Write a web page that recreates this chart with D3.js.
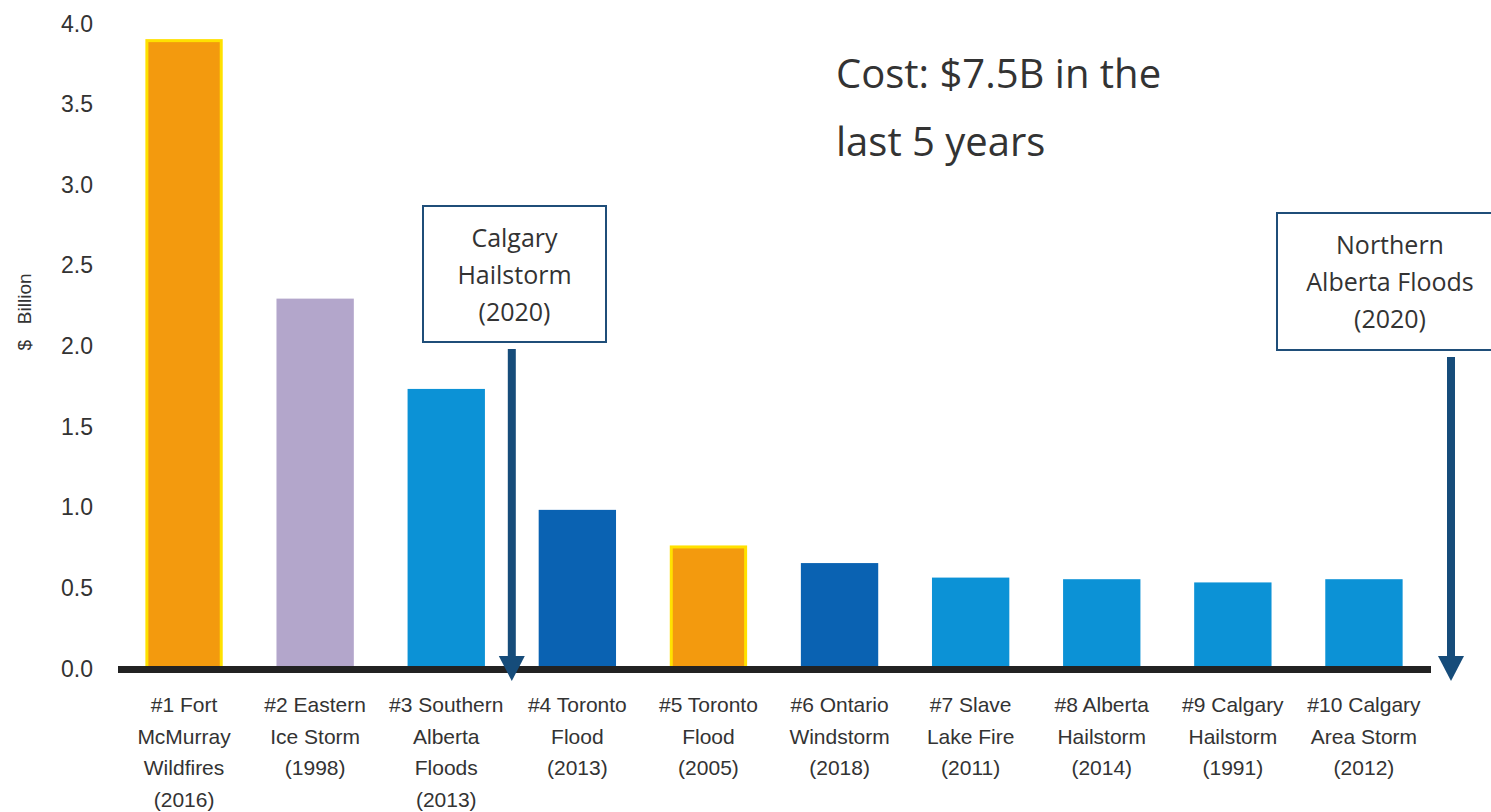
<!DOCTYPE html>
<html>
<head>
<meta charset="utf-8">
<script src="https://cdn.jsdelivr.net/npm/d3@7"></script>
<style>
  body { margin: 0; background: #fff; }
  #graphic text { fill: #333; }
</style>
</head>
<body>
<div id="graphic"></div>
<script>
// Data
var categories = [
  ["#1 Fort", "McMurray", "Wildfires", "(2016)"],
  ["#2 Eastern", "Ice Storm", "(1998)"],
  ["#3 Southern", "Alberta", "Floods", "(2013)"],
  ["#4 Toronto", "Flood", "(2013)"],
  ["#5 Toronto", "Flood", "(2005)"],
  ["#6 Ontario", "Windstorm", "(2018)"],
  ["#7 Slave", "Lake Fire", "(2011)"],
  ["#8 Alberta", "Hailstorm", "(2014)"],
  ["#9 Calgary", "Hailstorm", "(1991)"],
  ["#10 Calgary", "Area Storm", "(2012)"]
];
var values = [3.9, 2.3, 1.74, 0.99, 0.76, 0.66, 0.57, 0.56, 0.54, 0.56];
var barColours = ["#F39A0E", "#B3A6CB", "#0C92D6", "#0A62B2", "#F39A0E",
                  "#0A62B2", "#0C92D6", "#0C92D6", "#0C92D6", "#0C92D6"];
var highlighted = [true, false, false, false, true, false, false, false, false, false];
var yTicks = [0, 0.5, 1, 1.5, 2, 2.5, 3, 3.5, 4];
var callouts = [
  ["Calgary", "Hailstorm", "(2020)"],
  ["Northern", "Alberta Floods", "(2020)"]
];
var note = ["Cost: $7.5B in the", "last 5 years"];

var width = 1491, height = 812;

var svg = d3.select("#graphic")
  .append("svg")
  .attr("width", width)
  .attr("height", height);

// Scales
var x = d3.scaleBand()
  .domain(d3.range(categories.length))
  .range([118.5, 1429.5])
  .paddingInner(0.41)
  .paddingOuter(0.205);

var y = d3.scaleLinear().domain([0, 4]).range([668, 23]);

// Y axis (labels only)
var yAxis = d3.axisLeft(y)
  .tickValues(yTicks)
  .tickFormat(d3.format(".1f"))
  .tickSize(0)
  .tickPadding(0);

var yAxisG = svg.append("g")
  .attr("transform", "translate(93,0)")
  .call(yAxis);
yAxisG.select(".domain").remove();
yAxisG.selectAll("text")
  .style("font-family", "'Liberation Sans', Arial, sans-serif")
  .style("font-size", "23px")
  .attr("dy", "0.35em");

svg.append("text")
  .attr("transform", "translate(31,312) rotate(-90)")
  .attr("text-anchor", "middle")
  .style("font-family", "'Liberation Sans', Arial, sans-serif")
  .style("font-size", "19px")
  .style("white-space", "pre")
  .text("$   Billion");

// Bars
svg.selectAll(".bar")
  .data(values)
  .enter()
  .append("rect")
  .attr("class", "bar")
  .attr("x", (d, i) => x(i) + (highlighted[i] ? 1.5 : 0))
  .attr("y", (d) => y(d) + 1.5)
  .attr("width", (d, i) => x.bandwidth() - (highlighted[i] ? 3 : 0))
  .attr("height", (d) => y(0) - y(d) - 1.5)
  .attr("fill", (d, i) => barColours[i])
  .attr("stroke", (d, i) => highlighted[i] ? "#FFE100" : "none")
  .attr("stroke-width", 3);

// Baseline
svg.append("line")
  .attr("x1", 118)
  .attr("x2", 1431)
  .attr("y1", y(0) + 1.5)
  .attr("y2", y(0) + 1.5)
  .attr("stroke", "#222")
  .attr("stroke-width", 7);

// Category labels
var labels = svg.selectAll(".cat")
  .data(categories)
  .enter()
  .append("text")
  .attr("class", "cat")
  .attr("text-anchor", "middle")
  .attr("transform", (d, i) => "translate(" + (x(i) + x.bandwidth() / 2) + ",0)")
  .style("font-family", "'Liberation Sans', Arial, sans-serif")
  .style("font-size", "21px");

labels.selectAll("tspan")
  .data((d) => d)
  .enter()
  .append("tspan")
  .attr("x", 0)
  .attr("y", (d, j) => 712 + j * 31.5)
  .text((d) => d);

// Callouts: box with text and arrow down to axis
var arrowColour = "#164C7A";
var calloutBoxes = [
  { x0: 423, x1: 606, y0: 206, y1: 342, cx: 514.5, ax: (x(2) + x.bandwidth() + x(3)) / 2 },
  { x0: 1277, x1: 1500, y0: 213, y1: 350, cx: 1390, ax: 1451 }
];

callouts.forEach(function (lines, k) {
  var b = calloutBoxes[k];
  var g = svg.append("g");
  g.append("rect")
    .attr("x", b.x0)
    .attr("y", b.y0)
    .attr("width", b.x1 - b.x0)
    .attr("height", b.y1 - b.y0)
    .attr("fill", "#fff")
    .attr("stroke", "#1F4E79")
    .attr("stroke-width", 2);
  lines.forEach(function (line, j) {
    g.append("text")
      .attr("x", b.cx)
      .attr("y", b.y0 + 41 + j * 37)
      .attr("text-anchor", "middle")
      .style("font-family", "'Open Sans', 'Noto Sans', sans-serif")
      .style("font-size", "25px")
      .text(line);
  });
  var top = b.y1 + 7;
  var tip = y(0) + 13;
  g.append("rect")
    .attr("x", b.ax - 4)
    .attr("y", top)
    .attr("width", 8)
    .attr("height", tip - 24 - top)
    .attr("fill", arrowColour);
  g.append("path")
    .attr("d", "M" + (b.ax - 13) + "," + (tip - 25) + "L" + (b.ax + 13) + "," + (tip - 25) + "L" + b.ax + "," + tip + "Z")
    .attr("fill", arrowColour);
});

// Note
note.forEach(function (line, j) {
  svg.append("text")
    .attr("x", 836)
    .attr("y", 88 + j * 68)
    .style("font-family", "'Open Sans', 'Noto Sans', sans-serif")
    .style("font-size", "40px")
    .text(line);
});
</script>
</body>
</html>
